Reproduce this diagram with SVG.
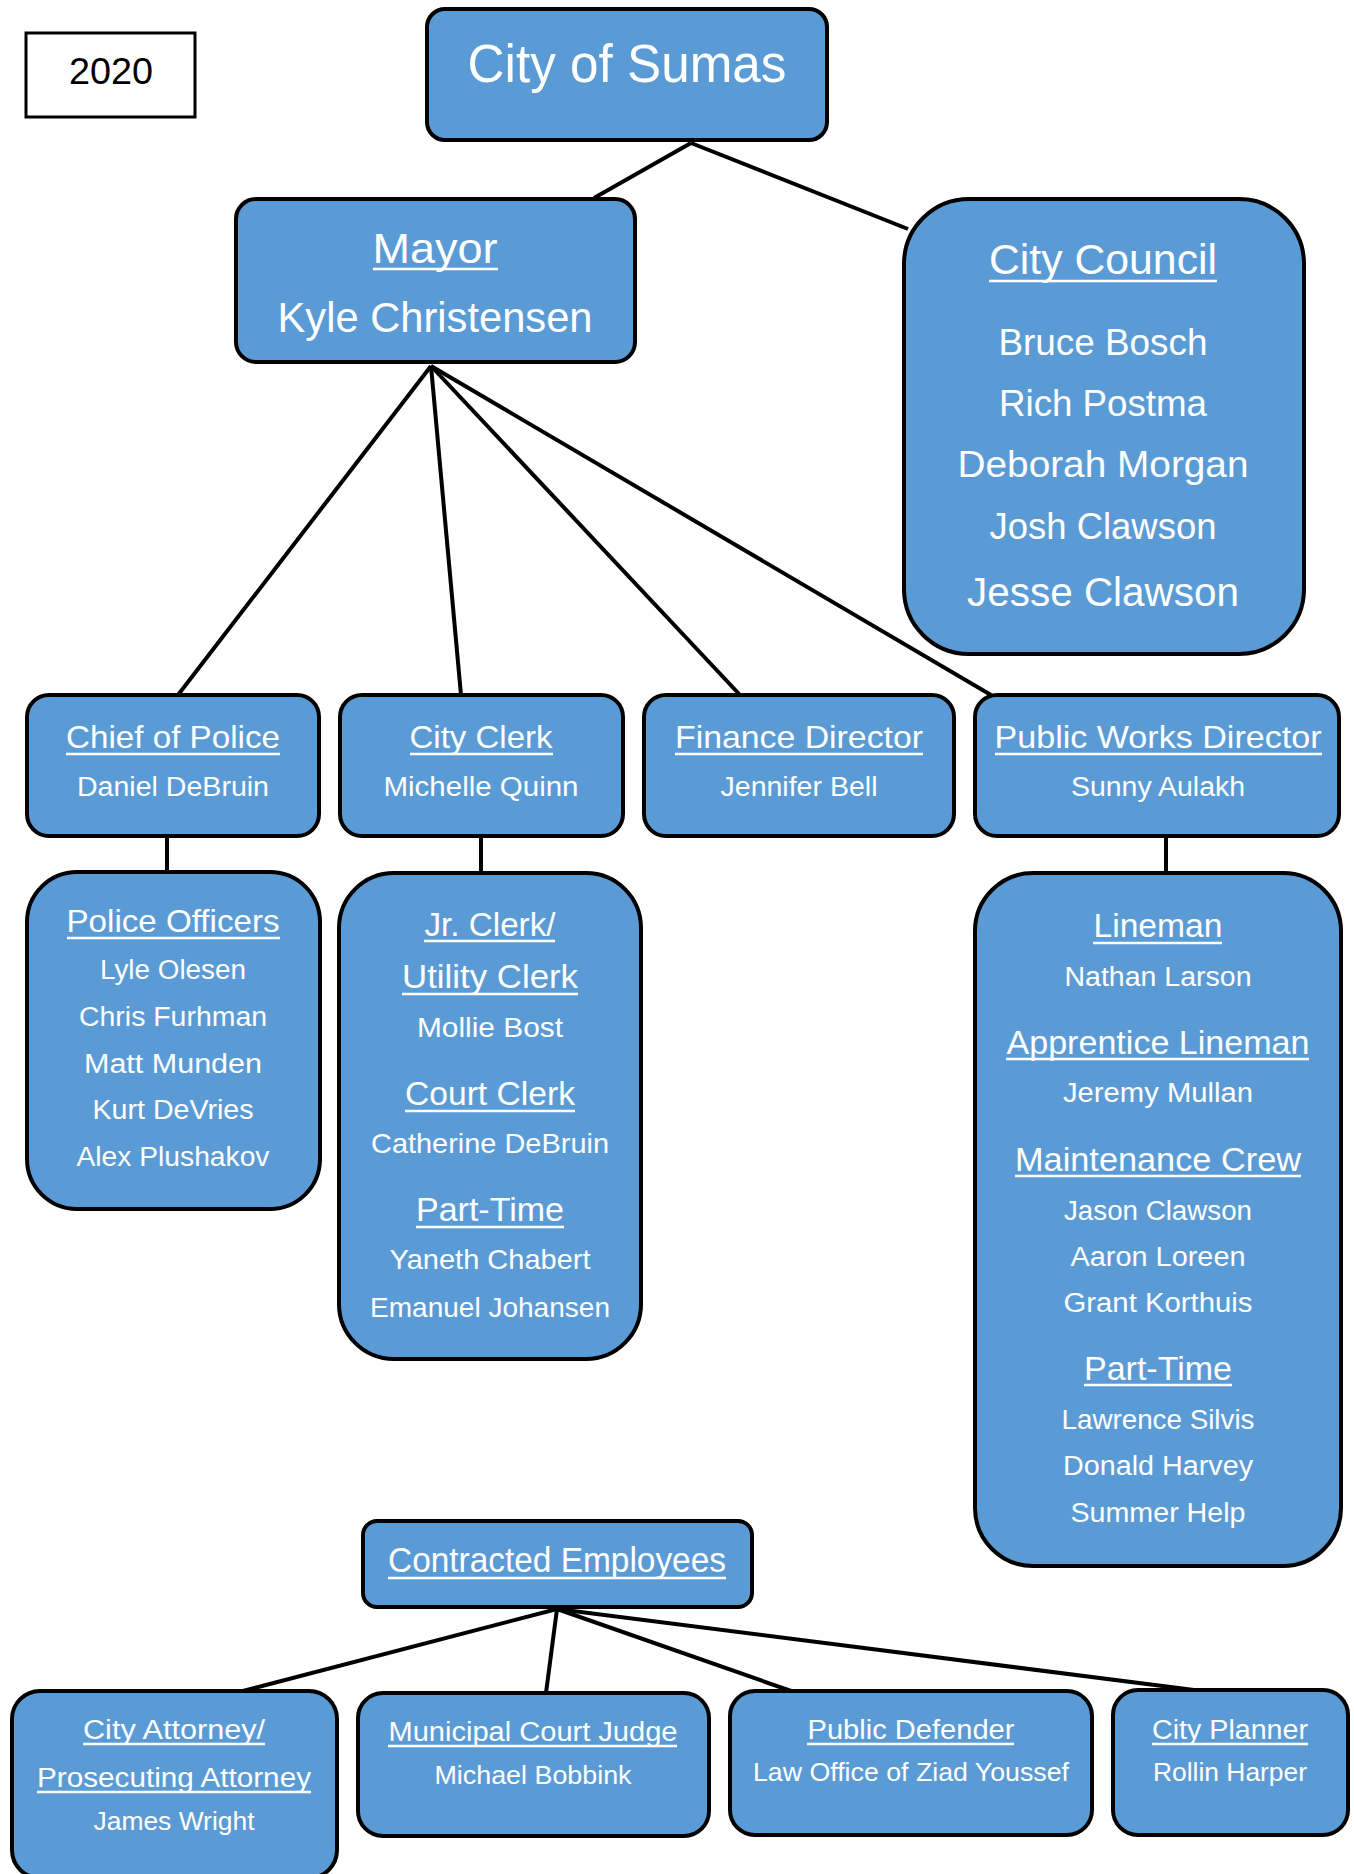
<svg xmlns="http://www.w3.org/2000/svg" width="1354" height="1874" viewBox="0 0 1354 1874">
<style>
.box{fill:#5B9BD5;stroke:#000;stroke-width:4}
.t{fill:#fff;font-family:"Liberation Sans",Arial,sans-serif;text-anchor:middle}
.g{fill:#fff;font-family:"Liberation Sans",Arial,sans-serif;text-anchor:middle}
.ul{stroke:#fff;stroke-width:2.5}
.conn line{stroke:#000;stroke-width:4;stroke-linecap:butt}
</style>
<rect width="1354" height="1874" fill="#fff"/>
<g class="conn" id="connectors">
<line x1="691" y1="143" x2="594" y2="198"/>
<line x1="691" y1="143" x2="908" y2="229"/>
<line x1="431" y1="366" x2="178" y2="695"/>
<line x1="431" y1="366" x2="461" y2="695"/>
<line x1="431" y1="366" x2="740" y2="695"/>
<line x1="431" y1="366" x2="991" y2="695"/>
<line x1="167" y1="836" x2="167" y2="873"/>
<line x1="481" y1="836" x2="481" y2="873"/>
<line x1="1166" y1="836" x2="1166" y2="873"/>
<line x1="557" y1="1609" x2="239" y2="1692"/>
<line x1="557" y1="1609" x2="546" y2="1693"/>
<line x1="557" y1="1609" x2="794" y2="1692"/>
<line x1="557" y1="1609" x2="1194" y2="1690"/>
</g>
<g id="year">
<rect x="26" y="33" width="169" height="84" fill="#fff" stroke="#000" stroke-width="3"/>
<text x="111" y="84" font-size="37" textLength="84" lengthAdjust="spacingAndGlyphs" font-family="Liberation Sans, Arial, sans-serif" text-anchor="middle" fill="#000">2020</text>
</g>
<g id="city">
<rect class="box" x="427" y="9" width="400" height="131" rx="18"/>
<text class="t" x="627" y="82" font-size="53" textLength="319" lengthAdjust="spacingAndGlyphs">City of Sumas</text>
</g>
<g id="mayor">
<rect class="box" x="236" y="199" width="399" height="163" rx="20"/>
<text class="t" x="435" y="263" font-size="42" textLength="125" lengthAdjust="spacingAndGlyphs">Mayor</text>
<line class="ul" x1="373" y1="269" x2="498" y2="269"/>
<text class="t" x="435" y="332" font-size="42" textLength="315" lengthAdjust="spacingAndGlyphs">Kyle Christensen</text>
</g>
<g id="council">
<rect class="box" x="904" y="199" width="400" height="455" rx="65"/>
<text class="t" x="1103" y="274" font-size="43" textLength="228" lengthAdjust="spacingAndGlyphs">City Council</text>
<line class="ul" x1="989" y1="281" x2="1217" y2="281"/>
<text class="t" x="1103" y="355" font-size="37" textLength="209" lengthAdjust="spacingAndGlyphs">Bruce Bosch</text>
<text class="t" x="1103" y="416" font-size="37" textLength="208" lengthAdjust="spacingAndGlyphs">Rich Postma</text>
<text class="t" x="1103" y="477" font-size="37" textLength="291" lengthAdjust="spacingAndGlyphs">Deborah Morgan</text>
<text class="t" x="1103" y="539" font-size="37" textLength="227" lengthAdjust="spacingAndGlyphs">Josh Clawson</text>
<text class="t" x="1103" y="606" font-size="41" textLength="272" lengthAdjust="spacingAndGlyphs">Jesse Clawson</text>
</g>
<g id="chief">
<rect class="box" x="27" y="695" width="292" height="141" rx="22"/>
<text class="t" x="173" y="748" font-size="32" textLength="214" lengthAdjust="spacingAndGlyphs">Chief of Police</text>
<line class="ul" x1="66" y1="754" x2="280" y2="754"/>
<text class="t" x="173" y="796" font-size="27" textLength="192" lengthAdjust="spacingAndGlyphs">Daniel DeBruin</text>
</g>
<g id="clerk">
<rect class="box" x="340" y="695" width="283" height="141" rx="22"/>
<text class="t" x="481" y="748" font-size="32" textLength="143" lengthAdjust="spacingAndGlyphs">City Clerk</text>
<line class="ul" x1="410" y1="754" x2="553" y2="754"/>
<text class="t" x="481" y="796" font-size="27" textLength="195" lengthAdjust="spacingAndGlyphs">Michelle Quinn</text>
</g>
<g id="finance">
<rect class="box" x="644" y="695" width="310" height="141" rx="22"/>
<text class="t" x="799" y="748" font-size="32" textLength="248" lengthAdjust="spacingAndGlyphs">Finance Director</text>
<line class="ul" x1="675" y1="754" x2="923" y2="754"/>
<text class="t" x="799" y="796" font-size="27" textLength="157" lengthAdjust="spacingAndGlyphs">Jennifer Bell</text>
</g>
<g id="publicworks">
<rect class="box" x="975" y="695" width="364" height="141" rx="22"/>
<text class="t" x="1158" y="748" font-size="32" textLength="327" lengthAdjust="spacingAndGlyphs">Public Works Director</text>
<line class="ul" x1="995" y1="754" x2="1322" y2="754"/>
<text class="t" x="1158" y="796" font-size="27" textLength="174" lengthAdjust="spacingAndGlyphs">Sunny Aulakh</text>
</g>
<g id="police">
<rect class="box" x="27" y="872" width="293" height="337" rx="50"/>
<text class="t" x="173" y="932" font-size="32" textLength="213" lengthAdjust="spacingAndGlyphs">Police Officers</text>
<line class="ul" x1="67" y1="938" x2="280" y2="938"/>
<text class="t" x="173" y="979" font-size="27" textLength="146" lengthAdjust="spacingAndGlyphs">Lyle Olesen</text>
<text class="t" x="173" y="1026" font-size="27" textLength="188" lengthAdjust="spacingAndGlyphs">Chris Furhman</text>
<text class="t" x="173" y="1073" font-size="27" textLength="178" lengthAdjust="spacingAndGlyphs">Matt Munden</text>
<text class="t" x="173" y="1119" font-size="27" textLength="161" lengthAdjust="spacingAndGlyphs">Kurt DeVries</text>
<text class="t" x="173" y="1166" font-size="27" textLength="193" lengthAdjust="spacingAndGlyphs">Alex Plushakov</text>
</g>
<g id="clerkstaff">
<rect class="box" x="339" y="873" width="302" height="486" rx="55"/>
<text class="t" x="490" y="936" font-size="34" textLength="131" lengthAdjust="spacingAndGlyphs">Jr. Clerk/</text>
<line class="ul" x1="424" y1="941" x2="555" y2="941"/>
<text class="t" x="490" y="988" font-size="34" textLength="176" lengthAdjust="spacingAndGlyphs">Utility Clerk</text>
<line class="ul" x1="402" y1="994" x2="578" y2="994"/>
<text class="t" x="490" y="1037" font-size="28" textLength="146" lengthAdjust="spacingAndGlyphs">Mollie Bost</text>
<text class="t" x="490" y="1105" font-size="33" textLength="170" lengthAdjust="spacingAndGlyphs">Court Clerk</text>
<line class="ul" x1="405" y1="1111" x2="575" y2="1111"/>
<text class="t" x="490" y="1153" font-size="28" textLength="238" lengthAdjust="spacingAndGlyphs">Catherine DeBruin</text>
<text class="t" x="490" y="1221" font-size="33" textLength="148" lengthAdjust="spacingAndGlyphs">Part-Time</text>
<line class="ul" x1="416" y1="1227" x2="564" y2="1227"/>
<text class="t" x="490" y="1269" font-size="28" textLength="201" lengthAdjust="spacingAndGlyphs">Yaneth Chabert</text>
<text class="t" x="490" y="1317" font-size="28" textLength="240" lengthAdjust="spacingAndGlyphs">Emanuel Johansen</text>
</g>
<g id="pwstaff">
<rect class="box" x="975" y="873" width="366" height="693" rx="58"/>
<text class="g" x="1158" y="937" font-size="33" textLength="129" lengthAdjust="spacingAndGlyphs">Lineman</text>
<line class="ul" x1="1093" y1="943" x2="1222" y2="943"/>
<text class="g" x="1158" y="986" font-size="27" textLength="187" lengthAdjust="spacingAndGlyphs">Nathan Larson</text>
<text class="g" x="1158" y="1054" font-size="33" textLength="303" lengthAdjust="spacingAndGlyphs">Apprentice Lineman</text>
<line class="ul" x1="1006" y1="1059" x2="1309" y2="1059"/>
<text class="g" x="1158" y="1102" font-size="27" textLength="190" lengthAdjust="spacingAndGlyphs">Jeremy Mullan</text>
<text class="g" x="1158" y="1171" font-size="33" textLength="286" lengthAdjust="spacingAndGlyphs">Maintenance Crew</text>
<line class="ul" x1="1015" y1="1176" x2="1301" y2="1176"/>
<text class="g" x="1158" y="1220" font-size="27" textLength="188" lengthAdjust="spacingAndGlyphs">Jason Clawson</text>
<text class="g" x="1158" y="1266" font-size="27" textLength="175" lengthAdjust="spacingAndGlyphs">Aaron Loreen</text>
<text class="g" x="1158" y="1312" font-size="27" textLength="189" lengthAdjust="spacingAndGlyphs">Grant Korthuis</text>
<text class="g" x="1158" y="1380" font-size="33" textLength="148" lengthAdjust="spacingAndGlyphs">Part-Time</text>
<line class="ul" x1="1084" y1="1385" x2="1232" y2="1385"/>
<text class="g" x="1158" y="1429" font-size="27" textLength="193" lengthAdjust="spacingAndGlyphs">Lawrence Silvis</text>
<text class="g" x="1158" y="1475" font-size="27" textLength="190" lengthAdjust="spacingAndGlyphs">Donald Harvey</text>
<text class="g" x="1158" y="1522" font-size="27" textLength="175" lengthAdjust="spacingAndGlyphs">Summer Help</text>
</g>
<g id="contracted">
<rect class="box" x="363" y="1521" width="389" height="86" rx="14"/>
<text class="t" x="557" y="1572" font-size="35" textLength="338" lengthAdjust="spacingAndGlyphs">Contracted Employees</text>
<line class="ul" x1="388" y1="1578" x2="726" y2="1578"/>
</g>
<g id="attorney">
<rect class="box" x="12" y="1691" width="325" height="187" rx="28"/>
<text class="t" x="174" y="1739" font-size="27" textLength="182" lengthAdjust="spacingAndGlyphs">City Attorney/</text>
<line class="ul" x1="83" y1="1744" x2="265" y2="1744"/>
<text class="t" x="174" y="1787" font-size="27" textLength="274" lengthAdjust="spacingAndGlyphs">Prosecuting Attorney</text>
<line class="ul" x1="37" y1="1792" x2="311" y2="1792"/>
<text class="t" x="174" y="1830" font-size="25" textLength="161" lengthAdjust="spacingAndGlyphs">James Wright</text>
</g>
<g id="judge">
<rect class="box" x="358" y="1693" width="351" height="143" rx="25"/>
<text class="t" x="533" y="1741" font-size="27" textLength="289" lengthAdjust="spacingAndGlyphs">Municipal Court Judge</text>
<line class="ul" x1="388" y1="1746" x2="677" y2="1746"/>
<text class="t" x="533" y="1784" font-size="25" textLength="197" lengthAdjust="spacingAndGlyphs">Michael Bobbink</text>
</g>
<g id="defender">
<rect class="box" x="730" y="1691" width="362" height="144" rx="25"/>
<text class="t" x="911" y="1739" font-size="27" textLength="207" lengthAdjust="spacingAndGlyphs">Public Defender</text>
<line class="ul" x1="807" y1="1744" x2="1014" y2="1744"/>
<text class="t" x="911" y="1781" font-size="25" textLength="316" lengthAdjust="spacingAndGlyphs">Law Office of  Ziad Youssef</text>
</g>
<g id="planner">
<rect class="box" x="1113" y="1690" width="235" height="145" rx="25"/>
<text class="t" x="1230" y="1739" font-size="27" textLength="156" lengthAdjust="spacingAndGlyphs">City Planner</text>
<line class="ul" x1="1152" y1="1744" x2="1308" y2="1744"/>
<text class="t" x="1230" y="1781" font-size="25" textLength="154" lengthAdjust="spacingAndGlyphs">Rollin Harper</text>
</g>
</svg>
